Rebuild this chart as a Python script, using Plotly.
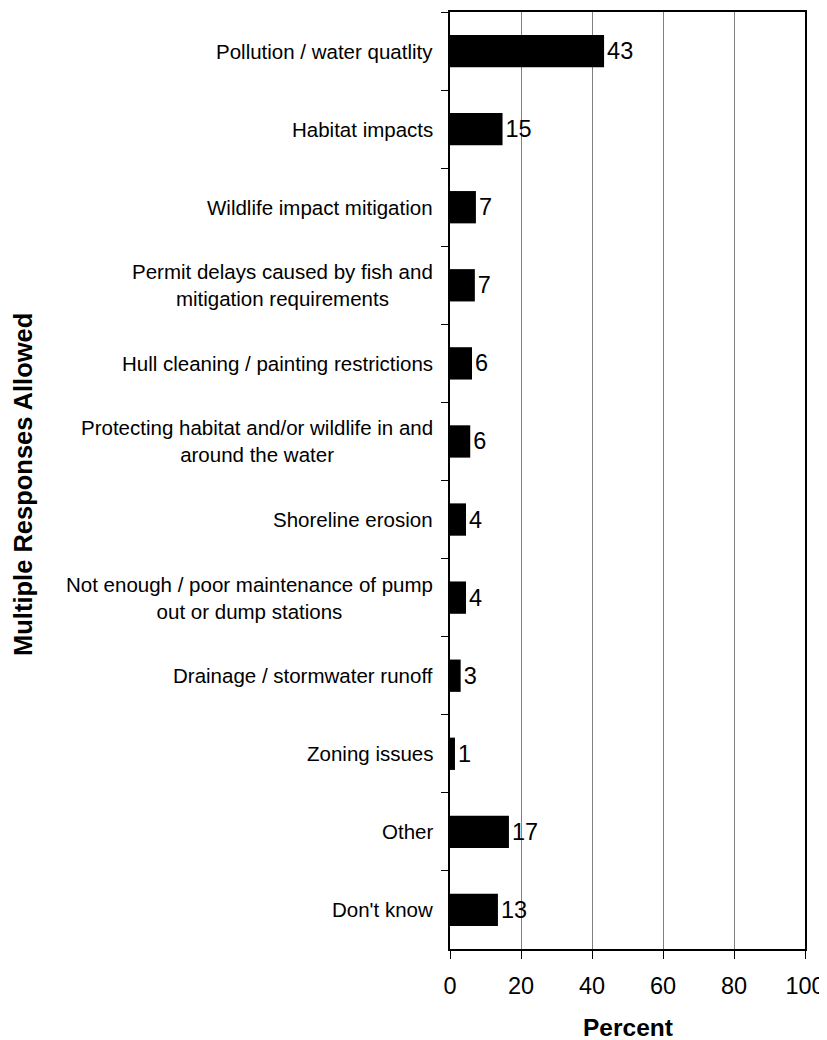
import plotly.graph_objects as go

categories = [
    "Pollution / water quatlity",
    "Habitat impacts",
    "Wildlife impact mitigation",
    "Permit delays caused by fish and<br>mitigation requirements",
    "Hull cleaning / painting restrictions",
    "Protecting habitat and/or wildlife in and<br>around the water",
    "Shoreline erosion",
    "Not enough / poor maintenance of pump<br>out or dump stations",
    "Drainage / stormwater runoff",
    "Zoning issues",
    "Other",
    "Don't know",
]
values = [43.4, 14.8, 7.3, 7.0, 6.2, 5.7, 4.5, 4.5, 3.0, 1.4, 16.6, 13.5]
labels = ["43", "15", "7", "7", "6", "6", "4", "4", "3", "1", "17", "13"]
x_ticks = [0, 20, 40, 60, 80, 100]

FONT = "Arial, Liberation Sans, sans-serif"

fig = go.Figure(go.Bar(
    x=values, y=categories, orientation="h",
    marker=dict(color="black", line=dict(width=0)),
    width=0.414,
    text=labels, textposition="outside",
    textfont=dict(family=FONT, size=23.5, color="black"),
    cliponaxis=False,
))

fig.update_layout(
    width=819, height=1032,
    margin=dict(l=442, r=22, t=2, b=91),
    plot_bgcolor="white", paper_bgcolor="white",
    font=dict(family=FONT, color="black"),
    showlegend=False,
)
fig.update_xaxes(
    range=[0, 100], tickvals=x_ticks,
    showgrid=True, gridcolor="#808080", gridwidth=1,
    showline=True, linecolor="black", linewidth=2, mirror=True,
    ticks="outside", ticklen=8, tickcolor="black", tickwidth=1,
    tickfont=dict(size=23.5), ticklabelstandoff=7, zeroline=False,
)
fig.update_yaxes(
    autorange="reversed", type="category",
    showline=True, linecolor="black", linewidth=2, mirror=True,
    ticks="outside", ticklen=7, tickcolor="black", tickwidth=1,
    tickson="boundaries", showgrid=False, showticklabels=False,
)

for cat in categories:
    fig.add_annotation(
        text=cat, x=0, xref="paper", y=cat, yref="y",
        xanchor="right", yanchor="middle", align="center",
        xshift=-15, showarrow=False,
        font=dict(size=20.5, color="black", family=FONT),
    )

fig.add_annotation(
    text="<b>Multiple Responses Allowed</b>", textangle=-90,
    xref="paper", yref="paper", x=0, y=0.5,
    xshift=-(450 - 23), yshift=-4.5,
    xanchor="center", yanchor="middle", showarrow=False,
    font=dict(size=25.5, color="black", family=FONT),
)
fig.add_annotation(
    text="<b>Percent</b>",
    xref="paper", yref="paper", x=0.5, y=0,
    yshift=-78, xanchor="center", yanchor="middle", showarrow=False,
    font=dict(size=24.5, color="black", family=FONT),
)

fig.write_html("out.html")
